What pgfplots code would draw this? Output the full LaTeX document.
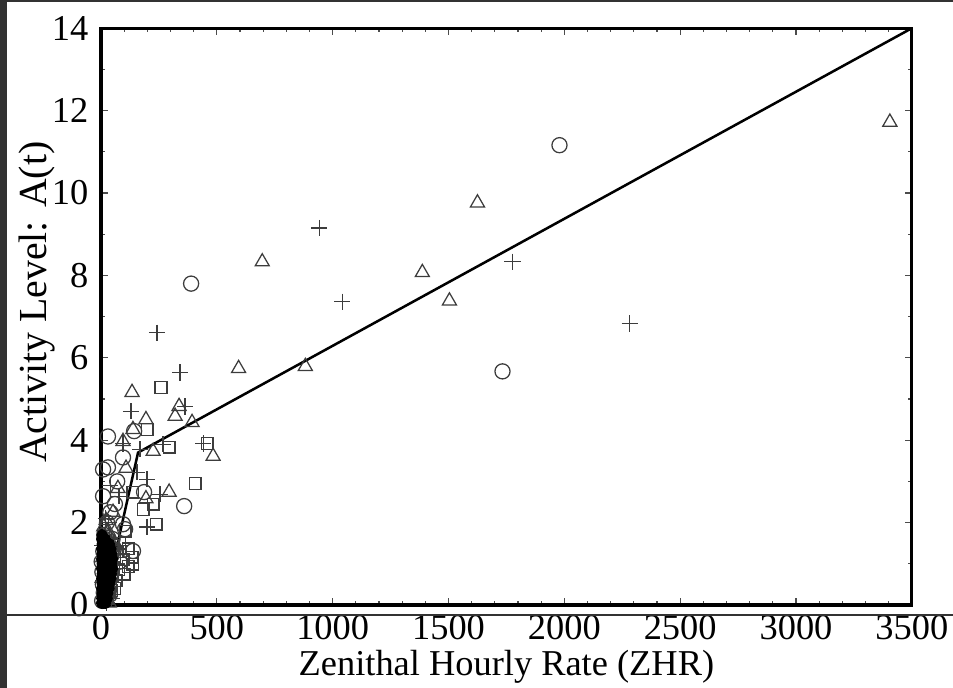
\documentclass[border=0pt]{standalone}
\usepackage{fontspec}
\setmainfont{Liberation Serif}
\usepackage{pgfplots}
\pgfplotsset{compat=1.18}
\definecolor{mk}{RGB}{60,60,60}
\definecolor{framec}{RGB}{50,50,50}
\begin{document}
\fontsize{13pt}{15pt}\selectfont
\begin{tikzpicture}
\begin{axis}[name=ax, scale only axis, width=289.6pt, height=206pt,
 xmin=0, xmax=3500, ymin=0, ymax=14,
 xtick distance=500, ytick distance=2, minor x tick num=4, minor y tick num=1,
 tick align=inside, major tick length=2.6pt, minor tick length=1.5pt,
 every tick/.style={black!70, line width=0.4pt},
 axis line style={line width=1.1pt},
 /pgf/number format/1000 sep={}, /pgf/number format/assume math mode=true,
 ticklabel style={font=\fontsize{13pt}{15pt}\selectfont},
 xticklabel style={yshift=1pt},
 xlabel={Zenithal Hourly Rate (ZHR)}, ylabel={Activity Level: A(t)},
 xlabel style={at={(axis description cs:0.5,-0.108)}, anchor=center},
 ylabel style={at={(axis description cs:-0.079,0.525)}, anchor=center, font=\fontsize{14.2pt}{16pt}\selectfont},
]
% circles
\addplot[only marks, mark=o, mark size=2.7pt, mk, line width=0.45pt] table {
x y
1979 11.16
389 7.80
1733 5.67
359 2.40
143 4.22
30 4.09
95 3.58
30 3.34
9 3.29
186 2.74
9 2.64
60 2.45
26 2.00
95 1.96
104 1.84
138 1.31
40 2.25
70 3.0
15 1.6
50 1.3
80 1.05
5 0.1
12 0.3
8 0.5
20 0.7
15 0.9
25 1.1
10 1.3
30 1.5
18 0.2
35 0.6
40 1.0
22 1.4
45 1.2
6 0.8
28 0.4
50 1.6
14 1.7
38 0.25
55 1.35
3 1.05
};
% triangles
\addplot[only marks, mark=triangle, mark size=2.9pt, mk, line width=0.45pt] table {
x y
3405 11.72
1625 9.76
696 8.33
1387 8.07
1504 7.38
882 5.79
594 5.74
134 5.16
337 4.82
320 4.58
194 4.50
393 4.43
138 4.26
95 3.97
225 3.73
484 3.61
108 3.32
73 2.83
194 2.58
294 2.74
52 2.25
30 1.8
60 1.5
10 0.15
25 0.45
18 0.75
32 0.85
8 1.15
40 1.3
15 1.55
28 1.75
5 0.65
36 0.05
12 1.9
22 2.05
};
% plus
\addplot[only marks, mark=+, mark size=2.9pt, mk, line width=0.45pt] table {
x y
942 9.15
1776 8.33
1041 7.36
2282 6.83
242 6.61
341 5.64
363 4.82
130 4.70
95 3.92
168 3.78
268 3.90
441 3.92
155 3.22
199 3.05
255 2.69
199 1.89
78 2.64
40 2.9
20 2.1
15 0.35
30 0.95
20 1.25
45 0.15
10 0.6
38 1.6
25 0.05
50 0.45
6 1.45
33 2.0
};
% squares
\addplot[only marks, mark=square, mark size=2.1pt, mk, line width=0.45pt] table {
x y
259 5.28
199 4.26
294 3.83
458 3.92
406 2.95
138 2.74
182 2.32
225 2.45
238 1.96
104 1.79
117 1.36
134 1.16
117 0.94
95 1.11
138 0.99
85 1.3
100 0.75
75 0.85
60 1.1
70 1.3
55 0.9
48 0.7
65 0.6
42 0.5
35 0.3
58 0.4
80 1.5
30 0.15
52 1.45
45 0.35
};
% dense core near the origin (many overlapping points)
\addplot[only marks, mark=*, mark size=1.8pt, black] table {
x y
3 0.04
11 0.04
19 0.04
3 0.16
11 0.16
19 0.16
27 0.16
5 0.28
13 0.28
21 0.28
29 0.28
3 0.40
11 0.40
19 0.40
27 0.40
35 0.40
5 0.52
13 0.52
21 0.52
29 0.52
37 0.52
3 0.64
11 0.64
19 0.64
27 0.64
35 0.64
43 0.64
5 0.76
13 0.76
21 0.76
29 0.76
37 0.76
45 0.76
3 0.88
11 0.88
19 0.88
27 0.88
35 0.88
43 0.88
50 0.88
5 1.00
13 1.00
21 1.00
29 1.00
37 1.00
45 1.00
3 1.12
11 1.12
19 1.12
27 1.12
35 1.12
43 1.12
50 1.12
5 1.24
13 1.24
21 1.24
29 1.24
37 1.24
45 1.24
3 1.36
11 1.36
19 1.36
27 1.36
35 1.36
43 1.36
5 1.48
13 1.48
21 1.48
29 1.48
37 1.48
3 1.60
11 1.60
19 1.60
5 1.70
};
% fitted line
\addplot[black, line width=0.9pt] table {
x y
12 0
160 3.70
3500 14
};
\end{axis}
\pgfresetboundingbox
\begin{scope}[shift={(ax.south west)}]
\useasboundingbox (-36.07pt,-29.64pt) rectangle (304.29pt,216.07pt);
\fill[framec] (-36.07pt,-29.64pt) rectangle (-33.57pt,216.07pt);
\fill[framec] (-36.07pt,215.37pt) rectangle (304.29pt,216.07pt);
\draw[framec, line width=0.4pt] (-33.57pt,-3.57pt) -- (304.29pt,-3.57pt);
\end{scope}
\end{tikzpicture}
\end{document}
